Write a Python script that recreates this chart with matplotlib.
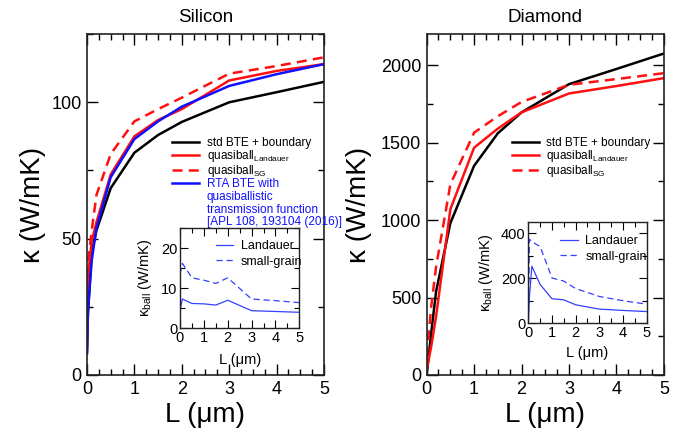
import numpy as np
import matplotlib
matplotlib.use("Agg")
import matplotlib.pyplot as plt
from matplotlib.ticker import MultipleLocator

plt.rcParams['font.family'] = ['Liberation Sans', 'DejaVu Sans']
plt.rcParams['mathtext.fontset'] = 'custom'
plt.rcParams['mathtext.rm'] = 'Liberation Sans'
plt.rcParams['mathtext.it'] = 'Liberation Sans:italic'

# silicon, main panel
si_L = [0, 0.02, 0.1, 0.2, 0.5, 1, 1.5, 2, 3, 4, 5]
si_std = [8, 22, 45, 53, 68.5, 81.5, 88, 92.8, 100, 103.7, 107.5]
si_land = [10, 36, 49, 56, 73.5, 87.5, 93.5, 97.5, 108, 111.5, 114]
si_sg = [12, 41, 53, 66, 81, 93, 97.5, 101.7, 110.5, 113.3, 116.5]
si_rta = [8, 24, 42, 54, 72.5, 86.5, 93, 98.4, 106, 110.3, 114]
# silicon inset
si_in_L = [0, 0.1, 0.5, 1, 1.5, 2, 3, 4, 5]
si_in_land = [4.5, 7.3, 6.2, 6.1, 5.8, 7.0, 4.4, 4.2, 4.0]
si_in_sg = [13.5, 16.2, 12.6, 12.0, 11.2, 12.6, 7.3, 6.9, 6.4]

# diamond, main panel
di_L = [0, 0.1, 0.2, 0.5, 1, 1.5, 2, 3, 4, 5]
di_std = [0, 280, 540, 980, 1350, 1560, 1695, 1877, 1975, 2075]
di_land = [30, 190, 380, 1070, 1467, 1590, 1695, 1817, 1865, 1916]
di_sg = [120, 450, 700, 1230, 1564, 1670, 1762, 1873, 1910, 1948]
# diamond inset
di_in_L = [0, 0.05, 0.15, 0.5, 1, 1.5, 2, 3, 4, 5]
di_in_land = [0, 120, 253, 172, 109, 104, 82, 63, 57, 52]
di_in_sg = [0, 373, 362, 340, 201, 187, 154, 119, 100, 85]

rta_extra = ['quasiballistic', 'transmission function', '[APL 108, 193104 (2016)]']

RED = '#ff1010'
BLUE = '#1010ff'
IBLUE = '#3340ff'

fig = plt.figure(figsize=(6.87, 4.32), dpi=100)

def style(ax, xmaj, xmin, ymaj, ymin, lsize, big):
    ax.xaxis.set_major_locator(MultipleLocator(xmaj))
    ax.xaxis.set_minor_locator(MultipleLocator(xmin))
    ax.yaxis.set_major_locator(MultipleLocator(ymaj))
    ax.yaxis.set_minor_locator(MultipleLocator(ymin))
    if big:
        ax.tick_params(which='major', direction='in', top=True, right=True, length=8, width=1.0, labelsize=lsize, pad=4)
        ax.tick_params(which='minor', direction='in', top=True, right=True, length=4.5, width=1.0)
    else:
        ax.tick_params(which='major', direction='in', top=True, right=True, length=6, width=0.8, labelsize=lsize, pad=2)
        ax.tick_params(which='minor', direction='in', top=True, right=True, length=3.5, width=0.8)
    for s in ax.spines.values():
        s.set_linewidth(1.2 if big else 1.0)
        s.set_color('#222222')

def labels(ax, xl, yl, size, xy, yx):
    ax.set_xlabel(xl, fontsize=size, va='center')
    ax.set_ylabel(yl, fontsize=size, va='center')
    ax.xaxis.set_label_coords(0.5, xy)
    ax.yaxis.set_label_coords(yx, 0.5)

# ---- silicon ----
ax1 = fig.add_axes([0.1266, 0.132, 0.345, 0.789])
ax1.plot(si_L, si_std, color='black', lw=1.8, label='std BTE + boundary')
ax1.plot(si_L, si_land, color=RED, lw=1.8, label=r'quasiball$_{\mathrm{Landauer}}$')
ax1.plot(si_L, si_sg, color=RED, lw=1.8, ls=(0, (4, 2.5)), label=r'quasiball$_{\mathrm{SG}}$')
ax1.plot(si_L, si_rta, color=BLUE, lw=1.8, label='RTA BTE with')
ax1.set_xlim(0, 5)
ax1.set_ylim(0, 125)
style(ax1, 1, 0.25, 50, 25, 13, True)
ax1.set_title('Silicon', fontsize=13.5, pad=9)
labels(ax1, 'L (μm)', 'κ (W/mK)', 20, -0.117, -0.228)
leg = ax1.legend(loc='upper left', bbox_to_anchor=(0.36, 0.697), frameon=False, fontsize=8.5,
                 handlelength=2.3, handletextpad=0.6, borderpad=0, borderaxespad=0, labelspacing=-0.1)
leg.get_texts()[3].set_color(BLUE)
for i, t in enumerate(rta_extra):
    ax1.text(0.506, 0.522 - 0.037 * i, t, transform=ax1.transAxes, fontsize=8.5,
             color=BLUE, va='center', ha='left')

ins1 = fig.add_axes([0.262, 0.240, 0.1737, 0.232])
ins1.plot(si_in_L, si_in_land, color=IBLUE, lw=0.9, label='Landauer')
ins1.plot(si_in_L, si_in_sg, color=IBLUE, lw=0.9, ls=(0, (5, 3)), label='small-grain')
ins1.set_xlim(0, 5)
ins1.set_ylim(0, 25)
style(ins1, 1, 0.5, 10, 5, 10.5, False)
labels(ins1, 'L (μm)', r'κ$_{\mathrm{ball}}$ (W/mK)', 10.5, -0.316, -0.293)
ins1.legend(loc='upper left', bbox_to_anchor=(0.30, 0.88), frameon=False, fontsize=9,
            handlelength=1.4, handletextpad=0.6, borderpad=0, borderaxespad=0, labelspacing=0.3)

# ---- diamond ----
ax2 = fig.add_axes([0.621, 0.132, 0.3454, 0.789])
ax2.plot(di_L, di_std, color='black', lw=1.8, label='std BTE + boundary')
ax2.plot(di_L, di_land, color=RED, lw=1.8, label=r'quasiball$_{\mathrm{Landauer}}$')
ax2.plot(di_L, di_sg, color=RED, lw=1.8, ls=(0, (4, 2.5)), label=r'quasiball$_{\mathrm{SG}}$')
ax2.set_xlim(0, 5)
ax2.set_ylim(0, 2200)
style(ax2, 1, 0.25, 500, 250, 13, True)
ax2.set_title('Diamond', fontsize=13.5, pad=9)
labels(ax2, 'L (μm)', 'κ (W/mK)', 20, -0.117, -0.283)
ax2.legend(loc='upper left', bbox_to_anchor=(0.36, 0.697), frameon=False, fontsize=8.5,
           handlelength=2.3, handletextpad=0.6, borderpad=0, borderaxespad=0, labelspacing=-0.1)

ins2 = fig.add_axes([0.769, 0.2516, 0.1723, 0.235])
ins2.plot(di_in_L, di_in_land, color=IBLUE, lw=0.9, label='Landauer')
ins2.plot(di_in_L, di_in_sg, color=IBLUE, lw=0.9, ls=(0, (5, 3)), label='small-grain')
ins2.set_xlim(0, 5)
ins2.set_ylim(0, 450)
style(ins2, 1, 0.5, 200, 100, 10.5, False)
labels(ins2, 'L (μm)', r'κ$_{\mathrm{ball}}$ (W/mK)', 10.5, -0.295, -0.36)
ins2.legend(loc='upper left', bbox_to_anchor=(0.27, 0.87), frameon=False, fontsize=9,
            handlelength=1.4, handletextpad=0.6, borderpad=0, borderaxespad=0, labelspacing=0.3)

fig.savefig('out.png', dpi=100)
